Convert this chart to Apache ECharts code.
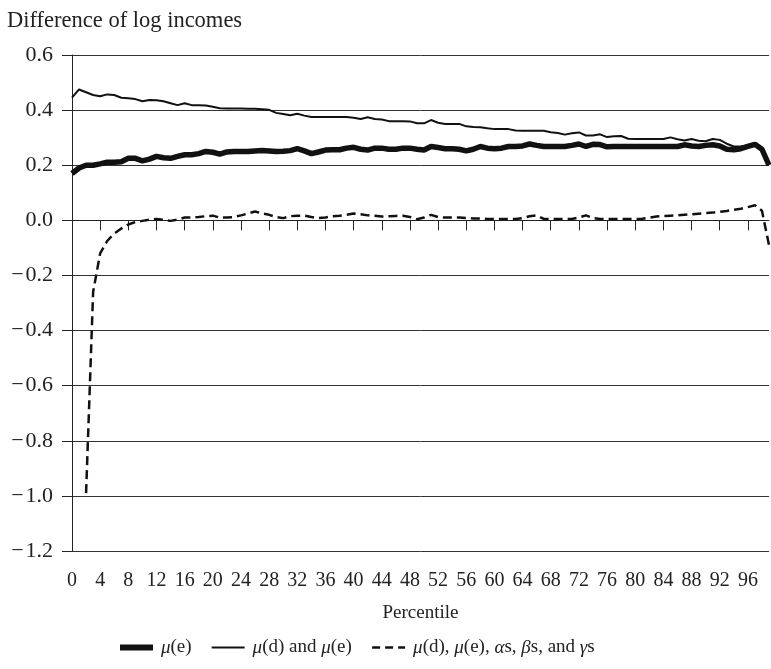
<!DOCTYPE html>
<html>
<head>
<meta charset="utf-8">
<script src="https://cdn.jsdelivr.net/npm/echarts@6/dist/echarts.min.js"></script>
<style>html,body{margin:0;padding:0;background:#fff}#c{width:771px;height:669px}</style>
</head>
<body>
<div id="c"></div>
<script>
// Percentiles 0..99
const percentiles = Array.from({length: 100}, (_, i) => String(i));

// μ(e)  (thick line)
const muE = [
0.170,0.190,0.200,0.200,0.205,0.211,0.211,0.213,0.225,0.225,
0.216,0.222,0.232,0.227,0.225,0.232,0.238,0.238,0.242,0.250,
0.247,0.240,0.248,0.250,0.250,0.250,0.252,0.253,0.252,0.250,
0.251,0.253,0.260,0.252,0.242,0.248,0.255,0.256,0.256,0.262,
0.265,0.258,0.255,0.262,0.262,0.258,0.258,0.262,0.262,0.258,
0.255,0.268,0.264,0.260,0.260,0.258,0.252,0.258,0.268,0.262,
0.260,0.262,0.268,0.268,0.270,0.277,0.272,0.268,0.268,0.268,
0.268,0.272,0.277,0.268,0.276,0.275,0.267,0.268,0.268,0.268,
0.268,0.268,0.268,0.268,0.268,0.268,0.268,0.274,0.270,0.268,
0.272,0.274,0.270,0.258,0.256,0.260,0.268,0.276,0.258,0.200
];

// μ(d) and μ(e)  (thin line)
const muDE = [
0.445,0.475,0.465,0.455,0.450,0.457,0.455,0.445,0.443,0.440,
0.432,0.437,0.436,0.432,0.425,0.418,0.425,0.418,0.418,0.417,
0.412,0.407,0.406,0.406,0.406,0.405,0.405,0.403,0.401,0.390,
0.386,0.381,0.387,0.380,0.375,0.375,0.375,0.375,0.375,0.375,
0.372,0.368,0.374,0.368,0.366,0.360,0.360,0.360,0.359,0.352,
0.352,0.364,0.354,0.350,0.350,0.350,0.341,0.339,0.338,0.334,
0.331,0.331,0.331,0.326,0.325,0.325,0.325,0.325,0.320,0.317,
0.311,0.316,0.319,0.308,0.308,0.312,0.302,0.305,0.306,0.296,
0.295,0.295,0.295,0.295,0.295,0.301,0.294,0.290,0.295,0.289,
0.287,0.295,0.292,0.278,0.268,0.268,0.272,0.280,0.262,0.205
];

// μ(d), μ(e), αs, βs, and γs  (dashed line)
const muAll = [
null,null,-0.990,-0.260,-0.120,-0.075,-0.048,-0.030,-0.015,-0.006,
-0.002,0.002,0.005,0.002,-0.002,0.003,0.010,0.010,0.012,0.015,
0.017,0.010,0.010,0.012,0.018,0.025,0.032,0.025,0.020,0.012,
0.008,0.015,0.017,0.017,0.012,0.008,0.010,0.015,0.017,0.020,
0.025,0.022,0.018,0.017,0.014,0.015,0.016,0.017,0.012,0.004,
0.010,0.020,0.012,0.010,0.010,0.010,0.008,0.007,0.007,0.005,
0.005,0.005,0.005,0.005,0.008,0.015,0.018,0.005,0.005,0.005,
0.005,0.005,0.010,0.018,0.008,0.005,0.005,0.005,0.005,0.005,
0.005,0.006,0.010,0.014,0.016,0.017,0.018,0.020,0.022,0.024,
0.026,0.028,0.031,0.034,0.038,0.042,0.048,0.055,0.035,-0.090
];

const seriesNames = ['μ(e)', 'μ(d) and μ(e)', 'μ(d), μ(e), αs, βs, and γs'];
const yTitle = 'Difference of log incomes';
const xTitle = 'Percentile';

const FONT = '"Liberation Serif", "Times New Roman", serif';
const chart = echarts.init(document.getElementById('c'), null, {renderer: 'canvas'});

function italicGreek(s) {
  return s.replace(/[μαβγ]/g, m => '{i|' + m + '}');
}

chart.setOption({
  animation: false,
  backgroundColor: '#fff',
  title: {
    text: yTitle,
    left: 7, top: 10, padding: 0,
    textStyle: {fontFamily: FONT, fontSize: 22.5, fontWeight: 'normal', color: '#222'}
  },
  grid: {left: 72, right: 2, top: 55, bottom: 118, containLabel: false},
  legend: {
    top: 638,
    left: 117,
    padding: 0,
    itemWidth: 33,
    itemHeight: 12,
    itemGap: 19,
    data: [
      {name: seriesNames[0], lineStyle: {width: 6, color: '#111'}},
      {name: seriesNames[1], lineStyle: {width: 2, color: '#111'}},
      {name: seriesNames[2], lineStyle: {width: 2.5, color: '#111', type: [8, 5]}}
    ],
    itemStyle: {opacity: 0},
    formatter: n => italicGreek(n),
    textStyle: {
      fontFamily: FONT, fontSize: 19, color: '#222', padding: [0, 0, 0, 3],
      rich: {i: {fontFamily: FONT, fontSize: 19, fontStyle: 'italic', color: '#222'}}
    }
  },
  xAxis: {
    type: 'category',
    data: percentiles,
    boundaryGap: false,
    name: xTitle,
    nameLocation: 'middle',
    nameGap: 53,
    nameTextStyle: {fontFamily: FONT, fontSize: 19, color: '#222'},
    axisLine: {lineStyle: {color: '#222', width: 1}},
    axisTick: {show: true, interval: 3, length: 10, lineStyle: {color: '#222'}},
    axisLabel: {interval: 3, margin: 20, fontFamily: FONT, fontSize: 20, color: '#222'},
    splitLine: {show: false}
  },
  yAxis: {
    type: 'value',
    min: -1.2, max: 0.6, interval: 0.2,
    axisLine: {show: true, lineStyle: {color: '#222', width: 1}},
    axisTick: {show: true, length: 10, lineStyle: {color: '#222'}},
    axisLabel: {
      margin: 19, fontFamily: FONT, fontSize: 22, color: '#222',
      formatter: v => (v < -1e-9 ? '\u2212\u200A' : '') + Math.abs(v).toFixed(1)
    },
    splitLine: {show: true, lineStyle: {color: '#333', width: 1}}
  },
  series: [
    {name: seriesNames[0], type: 'line', data: muE, symbol: 'none', showSymbol: false,
     lineStyle: {color: '#111', width: 5.5}, itemStyle: {color: '#111'}, z: 3},
    {name: seriesNames[1], type: 'line', data: muDE, symbol: 'none', showSymbol: false,
     lineStyle: {color: '#111', width: 2}, itemStyle: {color: '#111'}, z: 4},
    {name: seriesNames[2], type: 'line', data: muAll, symbol: 'none', showSymbol: false, connectNulls: false,
     lineStyle: {color: '#111', width: 2.5, type: [9, 5]}, itemStyle: {color: '#111'}, z: 5}
  ]
});
</script>
</body>
</html>
